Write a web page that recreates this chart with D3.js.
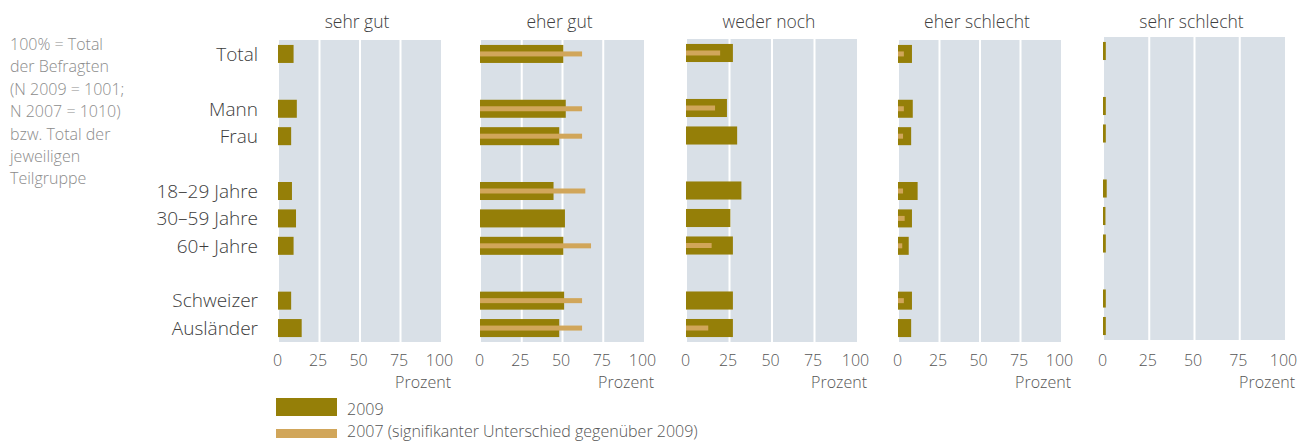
<!DOCTYPE html>
<html>
<head>
<meta charset="utf-8">
<script src="https://cdn.jsdelivr.net/npm/d3@7"></script>
<style>
  body { margin: 0; background: #fff; }
  svg { display: block; font-family: "Open Sans", sans-serif; font-weight: 300; }
</style>
</head>
<body>
<div id="chart"></div>
<script>
// panel titles and row labels (blank rows are the gaps between groups)
var panelTitles = ["sehr gut", "eher gut", "weder noch", "eher schlecht", "sehr schlecht"];
var rowKeys = ["Total", "gap1", "Mann", "Frau", "gap2", "18–29 Jahre", "30–59 Jahre", "60+ Jahre", "gap3", "Schweizer", "Ausländer"];
var groups = ["Total", "Mann", "Frau", "18–29 Jahre", "30–59 Jahre", "60+ Jahre", "Schweizer", "Ausländer"];
var tickValues = [0, 25, 50, 75, 100];

// percent values, 2009 and 2007 (2007 only where significantly different, else null)
var sehrGut2009      = [9, 11, 7.5, 8, 10.5, 9, 7.5, 14];
var sehrGut2007      = [null, null, null, null, null, null, null, null];
var eherGut2009      = [50.5, 52, 48, 44.5, 51.5, 50.5, 51, 48];
var eherGut2007      = [62, 62, 62, 64, null, 67.5, 62, 62];
var wederNoch2009    = [27, 23.5, 29.5, 32, 25.5, 27, 27, 27];
var wederNoch2007    = [19.5, 16.5, null, null, null, 14.5, null, 12.5];
var eherSchlecht2009 = [8, 8.5, 7.5, 11.5, 8, 6, 8, 7.5];
var eherSchlecht2007 = [3, 3, 2.5, 2.5, 3.5, 2, 3, null];
var sehrSchlecht2009 = [1, 1, 1, 1.5, 0.8, 1, 1, 1];
var sehrSchlecht2007 = [null, null, null, null, null, null, null, null];

var series2009 = [sehrGut2009, eherGut2009, wederNoch2009, eherSchlecht2009, sehrSchlecht2009];
var series2007 = [sehrGut2007, eherGut2007, wederNoch2007, eherSchlecht2007, sehrSchlecht2007];

var noteLines = ["100% = Total", "der Befragten", "(N 2009 = 1001;", "N 2007 = 1010)", "bzw. Total der", "jeweiligen", "Teilgruppe"];
var legendLabels = ["2009", "2007 (signifikanter Unterschied gegenüber 2009)"];

// layout
var W = 1298, H = 441;
var panelX = [[279, 441], [481, 644], [687, 857], [899, 1061], [1104, 1285]];
var panelY = [[40, 342], [40, 342], [39, 342], [40, 342], [37, 340]];
var col2009 = "#957f08", col2007 = "#d1a65a", bgCol = "#d9e0e7";

var svg = d3.select("#chart").append("svg")
  .attr("width", W).attr("height", H);

// note on the left
svg.append("g").selectAll("text")
  .data(noteLines)
  .enter().append("text")
  .attr("x", 10)
  .attr("y", function(d, i) { return 50 + i * 22.4; })
  .attr("font-size", 16)
  .attr("fill", "#8c8c8c")
  .text(function(d) { return d; });

panelTitles.forEach(function(title, p) {
  var x = d3.scaleLinear().domain([0, 100]).range(panelX[p]);
  var y = d3.scaleBand().domain(rowKeys).range(panelY[p])
    .paddingInner(0.343).paddingOuter(0.18);
  var g = svg.append("g");

  g.append("rect")
    .attr("x", x(0)).attr("y", panelY[p][0])
    .attr("width", x(100) - x(0)).attr("height", panelY[p][1] - panelY[p][0])
    .attr("fill", bgCol);

  g.selectAll("line.grid")
    .data([25, 50, 75])
    .enter().append("line")
    .attr("class", "grid")
    .attr("x1", function(d) { return x(d); }).attr("x2", function(d) { return x(d); })
    .attr("y1", panelY[p][0]).attr("y2", panelY[p][1])
    .attr("stroke", "#fff").attr("stroke-width", 2);

  g.append("text")
    .attr("x", (x(0) + x(100)) / 2 - 3)
    .attr("y", 28)
    .attr("text-anchor", "middle")
    .attr("font-size", 17.5)
    .attr("fill", "#404040")
    .text(title);

  var rows = groups.map(function(k, i) {
    return { key: k, v09: series2009[p][i], v07: series2007[p][i] };
  });

  g.selectAll("rect.b09")
    .data(rows)
    .enter().append("rect")
    .attr("class", "b09")
    .attr("x", x(0) - 1)
    .attr("y", function(d) { return y(d.key); })
    .attr("width", function(d) { return x(d.v09) - x(0) + 1; })
    .attr("height", y.bandwidth())
    .attr("fill", col2009);

  g.selectAll("rect.b07")
    .data(rows.filter(function(d) { return d.v07 != null; }))
    .enter().append("rect")
    .attr("class", "b07")
    .attr("x", x(0) - 1)
    .attr("y", function(d) { return y(d.key) + y.bandwidth() / 2 - 2.5; })
    .attr("width", function(d) { return x(d.v07) - x(0) + 1; })
    .attr("height", 5)
    .attr("fill", col2007);

  var axis = g.append("g")
    .attr("transform", "translate(-2," + 352 + ")")
    .call(d3.axisBottom(x).tickValues(tickValues).tickSize(0).tickPadding(3));
  axis.select(".domain").remove();
  axis.selectAll("text")
    .attr("font-size", 16)
    .attr("font-family", "Open Sans, sans-serif")
    .attr("fill", "#555");

  g.append("text")
    .attr("x", Math.min(x(100) + 10, W - 2))
    .attr("y", 387.5)
    .attr("text-anchor", "end")
    .attr("font-size", 16)
    .attr("fill", "#555")
    .text("Prozent");

  // row labels only beside the first panel
  if (p === 0) {
    g.selectAll("text.row")
      .data(groups)
      .enter().append("text")
      .attr("class", "row")
      .attr("x", 258)
      .attr("y", function(d) { return y(d) + y.bandwidth() / 2; })
      .attr("dy", "0.36em")
      .attr("text-anchor", "end")
      .attr("font-size", 19)
      .attr("fill", "#3c3c3c")
      .text(function(d) { return d; });
  }
});

// legend
var legend = svg.append("g");
legend.append("rect")
  .attr("x", 276).attr("y", 398).attr("width", 61).attr("height", 18)
  .attr("fill", col2009);
legend.append("rect")
  .attr("x", 276).attr("y", 429).attr("width", 61).attr("height", 9)
  .attr("fill", col2007);
legend.selectAll("text")
  .data(legendLabels)
  .enter().append("text")
  .attr("x", 347)
  .attr("y", function(d, i) { return 415 + i * 22; })
  .attr("font-size", 16)
  .attr("fill", "#555")
  .text(function(d) { return d; });
</script>
</body>
</html>
